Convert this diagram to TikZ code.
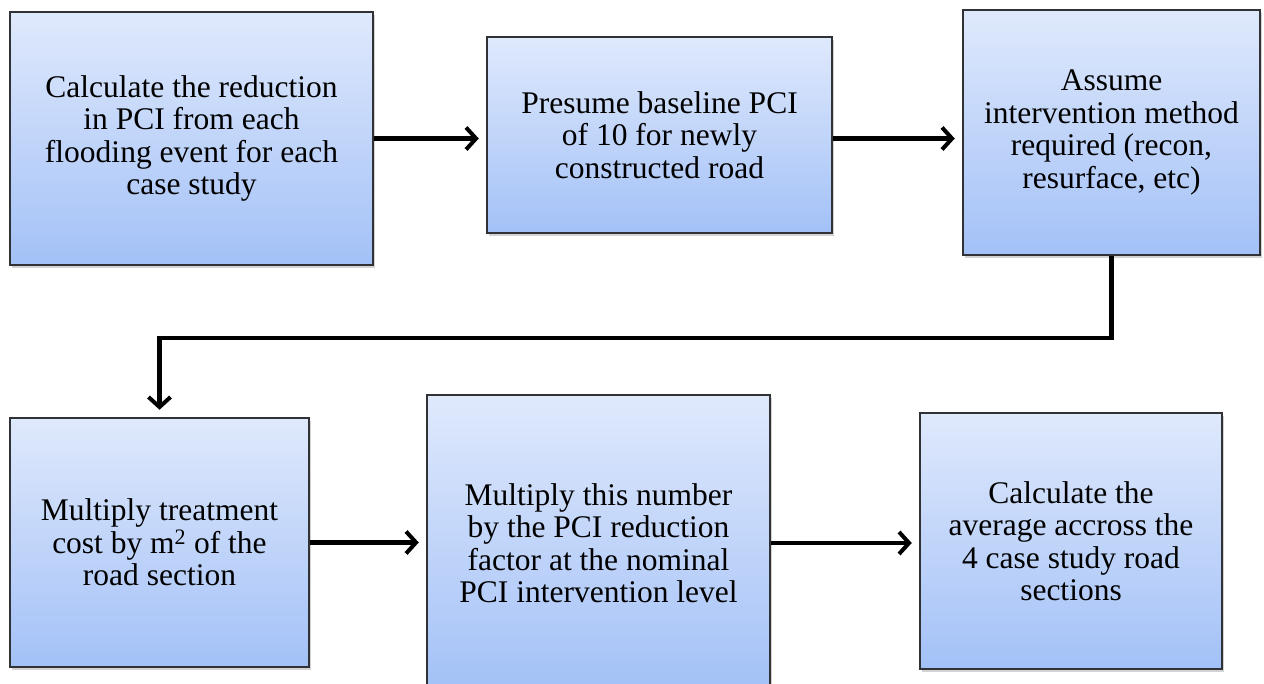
\documentclass[tikz,border=0pt]{standalone}
\usepackage{fontspec}
\setmainfont{Liberation Serif}
\usepackage{tikz}
\usetikzlibrary{positioning,shadows,arrows.meta}

\definecolor{boxtop}{HTML}{DFE9FC}
\definecolor{boxbot}{HTML}{A3C1F7}
\definecolor{boxline}{HTML}{303236}

\begin{document}
\begin{tikzpicture}[x=1pt,y=-1pt]
\tikzset{B/.style={rectangle,draw=boxline,line width=2.5pt,top color=boxtop,bottom color=boxbot,
  drop shadow={shadow xshift=2pt,shadow yshift=-3pt,opacity=0.35},
  align=center,inner sep=0pt,font=\fontsize{31.5}{32.5}\selectfont}}
\tikzset{A/.style={line width=4.5pt,-{Straight Barb[length=10pt,width=22pt,line width=4pt]},shorten >=7pt}}

  \useasboundingbox (0,0) rectangle (1264,684);

  \node[B,minimum width=363pt,minimum height=253pt] (b1) at (191.5,138.5)
    {Calculate the reduction\\in PCI from each\\flooding event for each\\case study};
  \node[B,minimum width=345pt,minimum height=196pt] (b2) at (659.5,135)
    {Presume baseline PCI\\of 10 for newly\\constructed road};
  \node[B,minimum width=297pt,minimum height=245pt] (b3) at (1111.5,132.5)
    {Assume\\intervention method\\required (recon,\\resurface, etc)};
  \node[B,minimum width=299pt,minimum height=249pt] (b4) at (159.5,542.5)
    {Multiply treatment\\cost by m\textsuperscript{2} of the\\road section};
  \node[B,minimum width=343pt,minimum height=296pt] (b5) at (598.5,543)
    {Multiply this number\\by the PCI reduction\\factor at the nominal\\PCI intervention level};
  \node[B,minimum width=302pt,minimum height=256pt] (b6) at (1071,541)
    {Calculate the\\average accross the\\4 case study road\\sections};

  \draw[A] (b1.east) -- (b1.east -| b2.west);
  \draw[A] (b2.east |- b1.east) -- (b1.east -| b3.west);
  \draw[A] (b3.south) -- ++(0,82) -| (b4.north);
  \draw[A] (b4.east) -- (b4.east -| b5.west);
  \draw[A] (b5.east) -- (b5.east -| b6.west);
\end{tikzpicture}
\end{document}
